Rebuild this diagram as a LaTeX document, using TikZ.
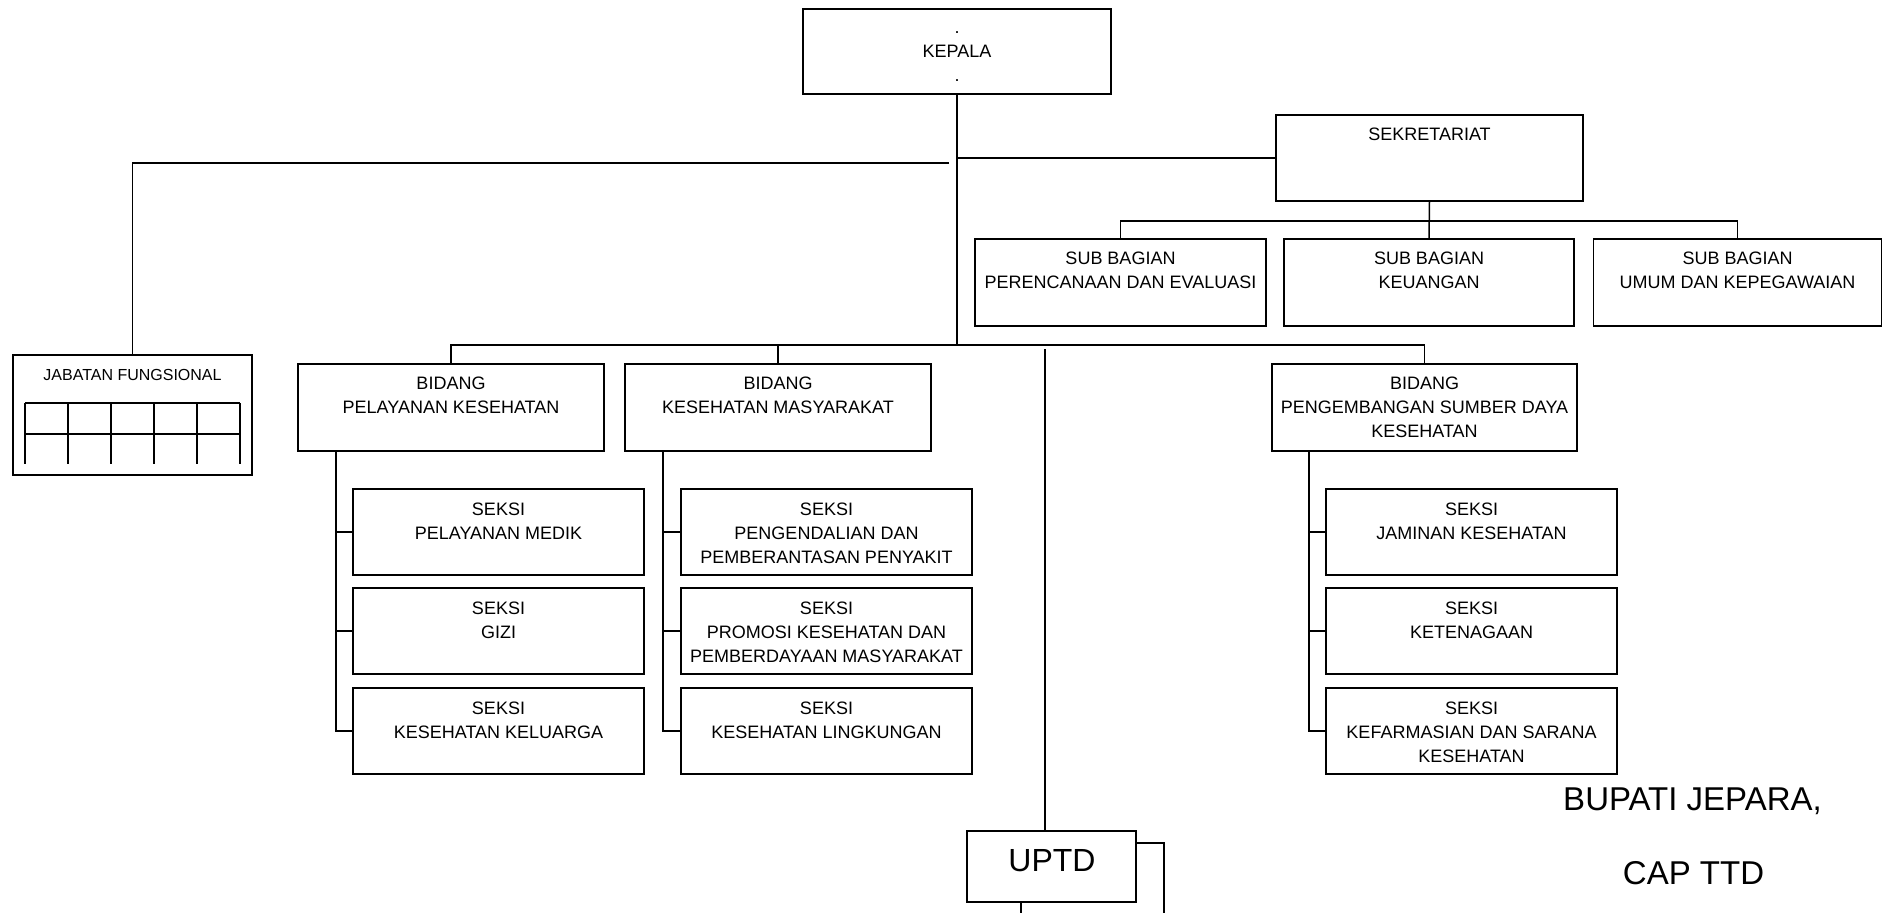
\documentclass[tikz,border=0pt]{standalone}
\usepackage{fontspec}
\setmainfont{Liberation Sans}
\usetikzlibrary{calc}
\newcommand\orgstrut{\rule{0pt}{12.9pt}}
\begin{document}
\begin{tikzpicture}[x=1pt,y=-1pt,
  unit/.style={draw=black, line width=1.5pt, rectangle, inner sep=0pt, outer sep=0pt, fill=white},
  boxtext/.style={anchor=north, inner sep=0pt, align=center, font=\fontsize{18}{24}\selectfont},
  wire/.style={draw=black, line width=1.5pt}]
\useasboundingbox[fill=white] (0,0) rectangle (1884,913);

% --- top level
\node[unit, minimum width=308pt, minimum height=85pt] (kepala) at (957,51.5) {};
\node[unit, minimum width=307pt, minimum height=86pt] (sekr) at (1429.5,158) {};
\node[unit, minimum width=291pt, minimum height=87pt] (sub1) at (1120.5,282.5) {};
\node[unit, minimum width=290pt, minimum height=87pt] (sub2) at (1429,282.5) {};
\node[unit, minimum width=288pt, minimum height=87pt] (sub3) at (1737.5,282.5) {};

% --- bidang
\node[unit, minimum width=306pt, minimum height=87pt] (bid1) at (451,407.5) {};
\node[unit, minimum width=306pt, minimum height=87pt] (bid2) at (778,407.5) {};
\node[unit, minimum width=305pt, minimum height=87pt] (bid3) at (1424.5,407.5) {};

% --- seksi
\foreach \col/\cx in {1/498.5, 2/826.5, 3/1471.5}{
  \foreach \row/\cy in {1/532, 2/631, 3/731}{
    \node[unit, minimum width=291pt, minimum height=86pt] (s\col\row) at (\cx,\cy) {};
  }
}

% --- jabatan fungsional and UPTD
\node[unit, minimum width=239pt, minimum height=120pt] (jab) at (132.5,415) {};
\node[unit, minimum width=169pt, minimum height=71pt] (uptd) at (1051.5,866.5) {};

% --- connectors
\coordinate (hub) at (957,345);
\draw[wire] (kepala.south) -- (hub);
\draw[wire] (sekr.west) -- (sekr.west -| kepala.south);
\coordinate (jabtap) at (949,163);
\draw[wire] (jabtap) -| (jab.north);
\draw[wire] (sekr.south) -- (sub2.north);
\draw[wire] (sub1.north) -- ++(0,-18) -| (sub3.north);
\draw[wire] (bid1.north) -- ++(0,-19) -| (bid3.north);
\draw[wire] (bid2.north) -- ++(0,-19);

\draw[wire] ($(bid1.south west)+(38,0)$) |- (s13.west);
\draw[wire] (s11.west) -- ++(-17,0);
\draw[wire] (s12.west) -- ++(-17,0);
\draw[wire] ($(bid2.south west)+(38,0)$) |- (s23.west);
\draw[wire] (s21.west) -- ++(-18,0);
\draw[wire] (s22.west) -- ++(-18,0);
\draw[wire] ($(bid3.south west)+(37,0)$) |- (s33.west);
\draw[wire] (s31.west) -- ++(-17,0);
\draw[wire] (s32.west) -- ++(-17,0);

\coordinate (uptdtap) at (1045,349);
\draw[wire] (uptdtap) -- (uptdtap |- uptd.north);
\coordinate (uptdR) at (1164,913);
\draw[wire] ($(uptd.north east)+(0,12)$) -| (uptdR);
\coordinate (uptdB) at (1021,913);
\draw[wire] (uptdB |- uptd.south) -- (uptdB);

% grid inside jabatan fungsional
\draw[wire] (25,403) -- (240,403) (25,434) -- (240,434);
\foreach \x in {25,68,111,154,197,240} \draw[wire] (\x,403) -- (\x,464);

% --- texts
\node[boxtext] (t-kepala) at ($(kepala.north)+(0,11)$) {\orgstrut.\\KEPALA\\.};
\node[boxtext] (t-sekr) at ($(sekr.north)+(0,12)$) {\orgstrut SEKRETARIAT};
\node[boxtext] (t-sub1) at ($(sub1.north)+(0,12)$) {\orgstrut SUB BAGIAN\\PERENCANAAN DAN EVALUASI};
\node[boxtext] (t-sub2) at ($(sub2.north)+(0,12)$) {\orgstrut SUB BAGIAN\\KEUANGAN};
\node[boxtext] (t-sub3) at ($(sub3.north)+(0,12)$) {\orgstrut SUB BAGIAN\\UMUM DAN KEPEGAWAIAN};
\node[boxtext] (t-bid1) at ($(bid1.north)+(0,12)$) {\orgstrut BIDANG\\PELAYANAN KESEHATAN};
\node[boxtext] (t-bid2) at ($(bid2.north)+(0,12)$) {\orgstrut BIDANG\\KESEHATAN MASYARAKAT};
\node[boxtext] (t-bid3) at ($(bid3.north)+(0,12)$) {\orgstrut BIDANG\\PENGEMBANGAN SUMBER DAYA\\KESEHATAN};

\node[boxtext] (t-s11) at ($(s11.north)+(0,13)$) {\orgstrut SEKSI\\PELAYANAN MEDIK};
\node[boxtext] (t-s12) at ($(s12.north)+(0,13)$) {\orgstrut SEKSI\\GIZI};
\node[boxtext] (t-s13) at ($(s13.north)+(0,13)$) {\orgstrut SEKSI\\KESEHATAN KELUARGA};
\node[boxtext] (t-s21) at ($(s21.north)+(0,13)$) {\orgstrut SEKSI\\PENGENDALIAN DAN\\PEMBERANTASAN PENYAKIT};
\node[boxtext] (t-s22) at ($(s22.north)+(0,13)$) {\orgstrut SEKSI\\PROMOSI KESEHATAN DAN\\PEMBERDAYAAN MASYARAKAT};
\node[boxtext] (t-s23) at ($(s23.north)+(0,13)$) {\orgstrut SEKSI\\KESEHATAN LINGKUNGAN};
\node[boxtext] (t-s31) at ($(s31.north)+(0,13)$) {\orgstrut SEKSI\\JAMINAN KESEHATAN};
\node[boxtext] (t-s32) at ($(s32.north)+(0,13)$) {\orgstrut SEKSI\\KETENAGAAN};
\node[boxtext] (t-s33) at ($(s33.north)+(0,13)$) {\orgstrut SEKSI\\KEFARMASIAN DAN SARANA\\KESEHATAN};

\node[anchor=base, inner sep=0pt, font=\fontsize{16}{19}\selectfont] (t-jab) at (132.5,380) {JABATAN FUNGSIONAL};
\node[anchor=base, inner sep=0pt, font=\fontsize{32}{36}\selectfont] (t-uptd) at (1052,871) {UPTD};
\node[anchor=base, inner sep=0pt, font=\fontsize{33}{38}\selectfont] (t-bupati) at (1692.5,810) {BUPATI JEPARA,};
\node[anchor=base, inner sep=0pt, font=\fontsize{33}{38}\selectfont] (t-cap) at (1693.5,884) {CAP TTD};
\end{tikzpicture}
\end{document}
